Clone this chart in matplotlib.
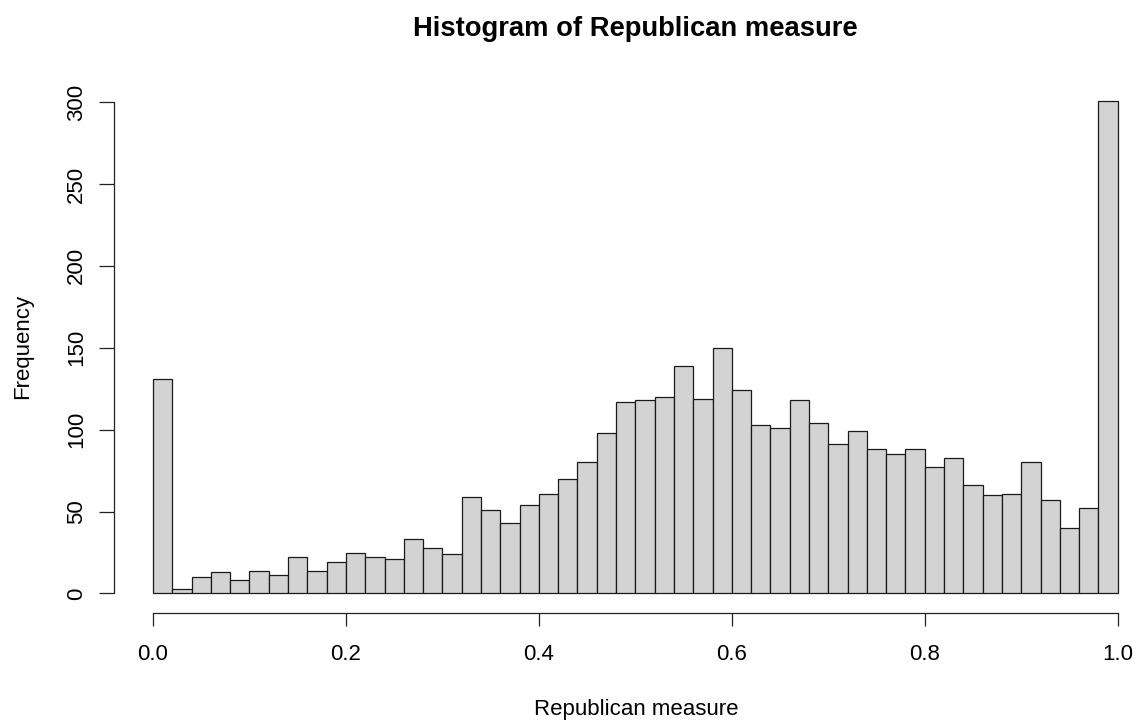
import numpy as np
import matplotlib
matplotlib.use("Agg")
import matplotlib.pyplot as plt

# Histogram data (50 bins of width 0.02 from 0 to 1)
bin_edges = np.linspace(0.0, 1.0, 51)
counts = [131, 3, 10, 13, 8, 14, 11, 22, 14, 19,
          25, 22, 21, 33, 28, 24, 59, 51, 43, 54,
          61, 70, 80, 98, 117, 118, 120, 139, 119, 150,
          124, 103, 101, 118, 104, 91, 99, 88, 85, 88,
          77, 83, 66, 60, 61, 80, 57, 40, 52, 301]
x_ticks = [0.0, 0.2, 0.4, 0.6, 0.8, 1.0]
x_tick_labels = ["0.0", "0.2", "0.4", "0.6", "0.8", "1.0"]
y_ticks = [0, 50, 100, 150, 200, 250, 300]
y_tick_labels = ["0", "50", "100", "150", "200", "250", "300"]
title = "Histogram of Republican measure"
xlabel = "Republican measure"
ylabel = "Frequency"

plt.rcParams['font.family'] = ['Liberation Sans', 'DejaVu Sans']

W, H = 1138, 724
fig = plt.figure(figsize=(W / 100, H / 100), dpi=100)
fig.patch.set_facecolor('white')

left_px, right_px = 114.4, 1156.3
top_px, bot_px = 80.8, 613.2
ax = fig.add_axes([left_px / W, 1 - bot_px / H,
                   (right_px - left_px) / W, (bot_px - top_px) / H])

ax.bar(bin_edges[:-1], counts, width=np.diff(bin_edges), align='edge',
       color='#D3D3D3', edgecolor='#1a1a1a', linewidth=0.9)

ax.set_xlim(-0.04, 1.04)
ax.set_ylim(-0.04 * 301, 301 * 1.04)

for s in ['top', 'right']:
    ax.spines[s].set_visible(False)
ax.spines['bottom'].set_bounds(0, 1)
ax.spines['left'].set_bounds(0, 300)
for s in ['bottom', 'left']:
    ax.spines[s].set_linewidth(0.9)
    ax.spines[s].set_color('#222222')

ax.set_xticks(x_ticks)
ax.set_xticklabels(x_tick_labels)
ax.set_yticks(y_ticks)
ax.set_yticklabels(y_tick_labels, rotation=90, va='center')
ax.tick_params(axis='x', length=9.4, width=0.9, color='#222222', pad=13, labelsize=16)
ax.tick_params(axis='y', length=10.5, width=0.9, color='#222222', pad=9, labelsize=16)

fig.text(635 / W, 1 - 36 / H, title, ha='center', va='baseline',
         fontsize=19.7, fontweight='bold')
fig.text(636 / W, 1 - 715 / H, xlabel, ha='center', va='baseline', fontsize=16)
fig.text(12 / W, 1 - 346 / H, ylabel, ha='left', va='center', rotation=90, fontsize=16)

fig.savefig('out.png', dpi=100, facecolor='white')
